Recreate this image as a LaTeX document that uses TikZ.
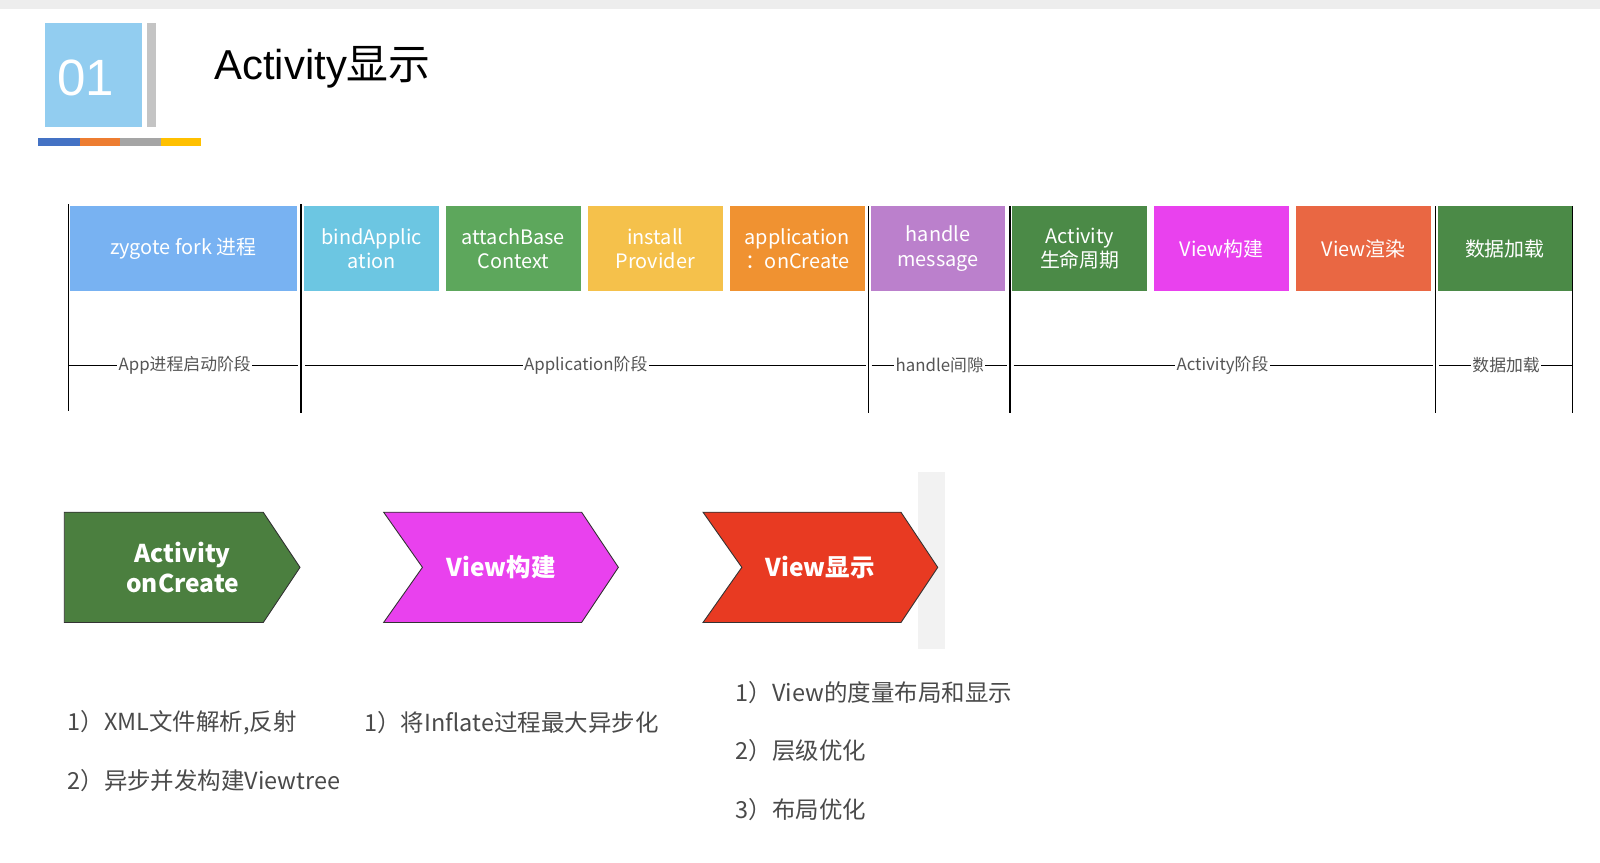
\documentclass[tikz,border=0pt]{standalone}
\usepackage{fontspec}
\setmainfont{Noto Sans CJK SC}
\newfontfamily\cjk{Noto Sans CJK SC}
\newfontfamily\arialf{Liberation Sans}
\definecolor{hdrblue}{HTML}{92CDF0}
\definecolor{hdrgray}{HTML}{C4C4C4}
\definecolor{barblue}{HTML}{4472C4}
\definecolor{barorange}{HTML}{ED7D31}
\definecolor{bargray}{HTML}{A5A5A5}
\definecolor{baryellow}{HTML}{FFC000}
\definecolor{czygote}{HTML}{78B2F2}
\definecolor{cbind}{HTML}{6CC6E2}
\definecolor{cattach}{HTML}{5DA75C}
\definecolor{cinstall}{HTML}{F5C14B}
\definecolor{cappcreate}{HTML}{F09231}
\definecolor{chandle}{HTML}{BB80CC}
\definecolor{cactgreen}{HTML}{4B8A47}
\definecolor{cmagenta}{HTML}{E941EE}
\definecolor{crender}{HTML}{E96743}
\definecolor{chevgreen}{HTML}{4B7F3F}
\definecolor{chevred}{HTML}{E83A22}
\definecolor{phasetext}{HTML}{555555}
\definecolor{bodytext}{HTML}{4A4A4A}
\begin{document}
\begin{tikzpicture}[x=1pt,y=-1pt,scale=1.0204,every node/.style={transform shape},
  stagebox/.style={minimum width=132pt, minimum height=83pt, inner sep=0pt, anchor=north west, text=white, align=center, font=\fontsize{19.5}{24}\selectfont},
  phaselabel/.style={fill=white, inner sep=1.5pt, text=phasetext, font=\fontsize{16.5}{19}\selectfont},
  phaseline/.style={line width=1.6pt, black},
  sepline/.style={line width=1.5pt, black},
  chevtext/.style={text=white, align=center, font=\bfseries\fontsize{24}{30}\selectfont},
  chevedge/.style={draw=black!80, line width=0.9pt},
  bodyitem/.style={anchor=west, text=bodytext, inner sep=0pt, font=\fontsize{23}{27}\selectfont}
]
\useasboundingbox (0,0) rectangle (1568,844.8);
\fill[white] (0,0) rectangle (1568,844.8);
\fill[black!7] (0,0) rectangle (1568,9);

% header
\fill[hdrblue] (44,23) rectangle (139,124);
\fill[hdrgray] (144,23) rectangle (153,124);
\node[text=white, font=\arialf\fontsize{50}{55}\selectfont, inner sep=0pt] (num) at (84,76) {01};
\fill[barblue] (37,135) rectangle (78,143);
\fill[barorange] (78,135) rectangle (118,143);
\fill[bargray] (118,135) rectangle (158,143);
\fill[baryellow] (158,135) rectangle (197,143);
\node[anchor=west, inner sep=0pt, font=\fontsize{41}{45}\selectfont] (title) at (210,66) {{\arialf Activity}{\cjk 显示}};

% stage boxes
\node[stagebox, fill=czygote, minimum width=223pt] (zygote) at (68,202) {zygote fork 进程};
\node[stagebox, fill=cbind] (bind) at (298,202) {bindApplic\\ation};
\node[stagebox, fill=cattach] (attach) at (437,202) {attachBase\\Context};
\node[stagebox, fill=cinstall] (install) at (576,202) {install\\Provider};
\node[stagebox, fill=cappcreate] (appcreate) at (715,202) {application\\：onCreate};
\node[stagebox, fill=chandle] (handle) at (853,202) {handle\\message};
\node[stagebox, fill=cactgreen] (actlife) at (992,202) {Activity\\生命周期};
\node[stagebox, fill=cmagenta] (viewbuild) at (1131,202) {View构建};
\node[stagebox, fill=crender] (viewrender) at (1270,202) {View渲染};
\node[stagebox, fill=cactgreen, minimum width=131pt] (dataload) at (1409,202) {数据加载};

% separators
\draw[sepline] (67,200) -- (67,403);
\draw[sepline] (295,200) -- (295,405);
\draw[sepline] (851,202) -- (851,405);
\draw[sepline] (990,202) -- (990,405);
\draw[sepline] (1407,202) -- (1407,405);
\draw[sepline] (1541,202) -- (1541,405);

% phase lines
\coordinate (p1a) at (67,358); \coordinate (p1b) at (292,358);
\coordinate (p2a) at (299,358); \coordinate (p2b) at (848,358);
\coordinate (p3a) at (854,358); \coordinate (p3b) at (987,358);
\coordinate (p4a) at (993,358); \coordinate (p4b) at (1404,358);
\coordinate (p5a) at (1410,358); \coordinate (p5b) at (1541,358);
\draw[phaseline] (p1a) -- (p1b);
\draw[phaseline] (p2a) -- (p2b);
\draw[phaseline] (p3a) -- (p3b);
\draw[phaseline] (p4a) -- (p4b);
\draw[phaseline] (p5a) -- (p5b);
\node[phaselabel] (l1) at (181,358) {App进程启动阶段};
\node[phaselabel] (l2) at (574,358) {Application阶段};
\node[phaselabel] (l3) at (921,358) {handle间隙};
\node[phaselabel] (l4) at (1198,358) {Activity阶段};
\node[phaselabel] (l5) at (1476,358) {数据加载};

% gray strip
\fill[black!5] (900,463) rectangle (926,636);

% chevrons
\filldraw[fill=chevgreen, chevedge] (63,502) -- (258,502) -- (294,556) -- (258,610) -- (63,610) -- cycle;
\filldraw[fill=cmagenta, chevedge] (376,502) -- (570,502) -- (606,556) -- (570,610) -- (376,610) -- (414,556) -- cycle;
\filldraw[fill=chevred, chevedge] (689,502) -- (883,502) -- (919,556) -- (883,610) -- (689,610) -- (727,556) -- cycle;
\node[chevtext] (c1) at (179,556) {Activity\\onCreate};
\node[chevtext] (c2) at (491,556) {View构建};
\node[chevtext] (c3) at (804,556) {View显示};

% bullet texts
\node[bodyitem] (t1) at (66,708) {1）XML文件解析,反射};
\node[bodyitem] (t2) at (66,765) {2）异步并发构建Viewtree};
\node[bodyitem] (t3) at (357,708) {1）将Inflate过程最大异步化};
\node[bodyitem] (t4) at (721,679) {1）View的度量布局和显示};
\node[bodyitem] (t5) at (721,736) {2）层级优化};
\node[bodyitem] (t6) at (721,793) {3）布局优化};
\end{tikzpicture}
\end{document}
